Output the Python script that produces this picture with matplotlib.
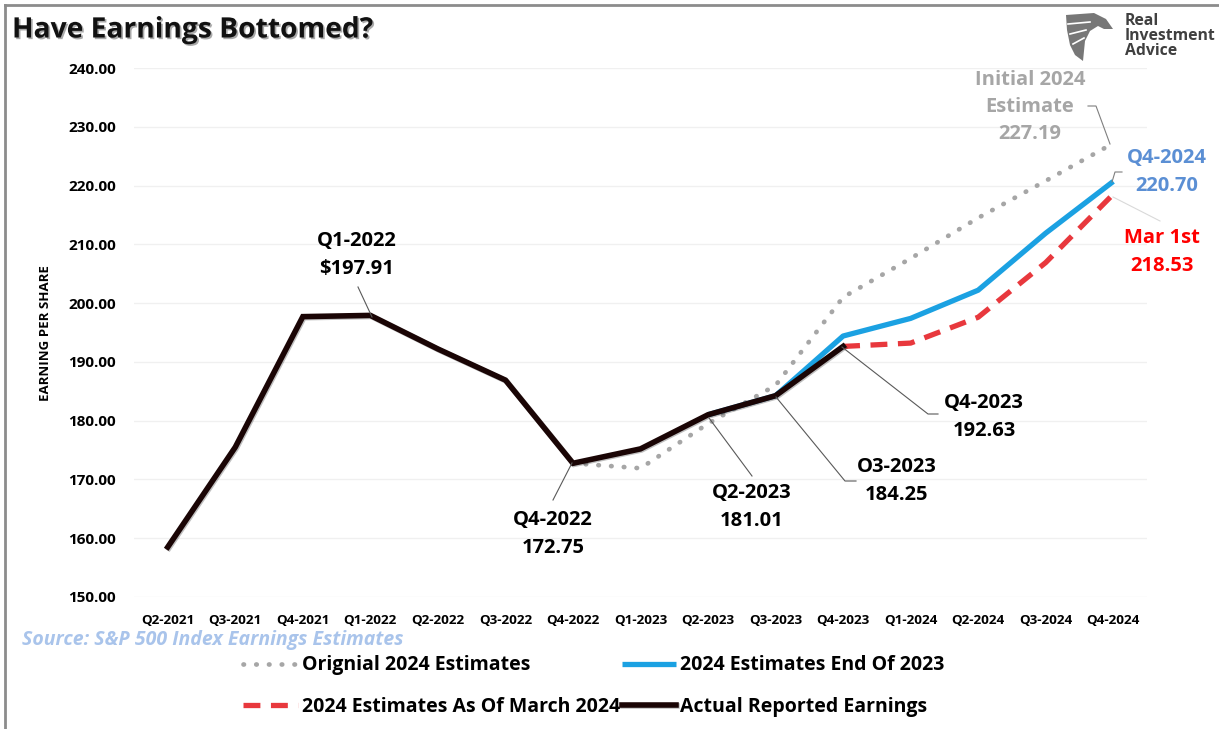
import matplotlib
matplotlib.use("Agg")
import matplotlib.pyplot as plt
import matplotlib.patheffects as pe
from matplotlib.lines import Line2D
import numpy as np

plt.rcParams['font.family'] = ['Open Sans', 'DejaVu Sans']

quarters = ["Q2-2021", "Q3-2021", "Q4-2021", "Q1-2022", "Q2-2022", "Q3-2022", "Q4-2022",
            "Q1-2023", "Q2-2023", "Q3-2023", "Q4-2023", "Q1-2024", "Q2-2024", "Q3-2024", "Q4-2024"]

actual = [158.5, 175.5, 197.7, 197.91, 192.2, 186.9, 172.75, 175.2, 181.01, 184.25, 192.63,
          None, None, None, None]
original_2024 = [None, None, None, None, None, None, 172.75, 171.9, 179.5, 186.0, 201.0,
                 207.6, 214.5, 220.8, 227.19]
end_2023 = [None, None, None, None, None, None, None, None, 181.01, 184.25, 194.4,
            197.4, 202.2, 211.9, 220.70]
march_2024 = [None, None, None, None, None, None, None, None, None, None, 192.63,
              193.2, 197.6, 206.9, 218.53]

yticks = [150, 160, 170, 180, 190, 200, 210, 220, 230, 240]

def arr(v):
    return np.array([np.nan if x is None else x for x in v], dtype=float)

W, H = 1219, 729
fig = plt.figure(figsize=(W / 100, H / 100), dpi=100)
fig.patch.set_facecolor("white")

def fx(px):
    return px / W

def fy(py):
    return 1 - py / H

ax = fig.add_axes([fx(134), fy(597), fx(1147) - fx(134), fy(68) - fy(597)])
x = np.arange(len(quarters))

c_gray = "#A6A6A6"
c_blue = "#1BA1E2"
c_red = "#E8383D"
c_black = "#1A0505"

l_orig, = ax.plot(x, arr(original_2024), color=c_gray, lw=3.4, linestyle=(0, (0.1, 2.6)),
                  dash_capstyle="round", zorder=2)
l_end, = ax.plot(x, arr(end_2023), color=c_blue, lw=3.8, solid_capstyle="butt", zorder=3)
l_mar, = ax.plot(x, arr(march_2024), color=c_red, lw=3.8, linestyle=(0, (3.2, 2.0)), zorder=3)
l_act, = ax.plot(x, arr(actual), color=c_black, lw=4.0, solid_joinstyle="miter", zorder=4,
                 path_effects=[pe.SimpleLineShadow(offset=(0.8, -0.8), alpha=0.25), pe.Normal()])

ax.set_xlim(-0.5, len(quarters) - 0.5)
ax.set_ylim(150, 240)
ax.set_yticks(yticks)
ax.set_yticklabels([f"{v:.2f}" for v in yticks])
ax.set_xticks(x)
ax.set_xticklabels(quarters)
for lab in ax.get_yticklabels():
    lab.set_fontsize(11)
    lab.set_fontweight("bold")
for lab in ax.get_xticklabels():
    lab.set_fontsize(9.7)
    lab.set_fontweight("bold")
ax.tick_params(axis="both", length=0)
ax.tick_params(axis="y", pad=13)
ax.tick_params(axis="x", pad=12)
for s in ax.spines.values():
    s.set_visible(False)
ax.grid(axis="y", color="#F0F0F0", lw=1)
ax.set_axisbelow(True)

fig.text(fx(46), fy(333), "EARNING PER SHARE", rotation=90, ha="center", va="center",
         fontsize=9.5, fontweight="bold")

# Title
fig.text(fx(12), fy(30), "Have Earnings Bottomed?", fontsize=20.3, fontweight="bold",
         ha="left", va="center", color="#111111",
         path_effects=[pe.withSimplePatchShadow(offset=(1.2, -1.2), shadow_rgbFace="#555555", alpha=0.5)])

# Logo
fig.text(fx(1125), fy(36), "Real\nInvestment\nAdvice", fontsize=11.3, fontweight="bold",
         color="#404040", ha="left", va="center", linespacing=0.92)
eagle_pts = [(1066, 15), (1094, 13), (1106, 19), (1113, 29), (1104, 29), (1098, 26),
             (1090, 31), (1085, 41), (1083, 61), (1075, 55), (1070, 45), (1067, 30)]
eagle = plt.Polygon([[fx(px), fy(py)] for px, py in eagle_pts], closed=True,
                    transform=fig.transFigure, facecolor="#777777", edgecolor="none")
fig.add_artist(eagle)
for (a, b) in [((1068, 24), (1090, 22)), ((1070, 34), (1086, 30)), ((1073, 44), (1084, 38))]:
    fig.add_artist(Line2D([fx(a[0]), fx(b[0])], [fy(a[1]), fy(b[1])], transform=fig.transFigure,
                          color="white", lw=1.2))

# Frame
fig.add_artist(Line2D([fx(5), fx(5)], [fy(5), 0], transform=fig.transFigure, color="#8C8C8C", lw=2))
fig.add_artist(Line2D([fx(5), 1], [fy(5), fy(5)], transform=fig.transFigure, color="#8C8C8C", lw=2))

# Source
fig.text(fx(22), fy(640), "Source: S&P 500 Index Earnings Estimates", fontsize=14, style="italic",
         fontweight="bold", color="#A9C4EB", ha="left", va="center")

def leader(points_px, color="#595959"):
    xs = [fx(p[0]) for p in points_px]
    ys = [fy(p[1]) for p in points_px]
    fig.add_artist(Line2D(xs, ys, transform=fig.transFigure, color=color, lw=0.8, zorder=5))

ann_kw = dict(ha="center", va="center", fontsize=14.5, fontweight="bold", linespacing=1.55)

fig.text(fx(357), fy(255), f"{quarters[3]}\n${197.91:.2f}", color="black", **ann_kw)
leader([(372, 317), (358, 287)])

fig.text(fx(553), fy(534), f"{quarters[6]}\n{172.75:.2f}", color="black", **ann_kw)
leader([(572, 463), (553, 500)])

fig.text(fx(752), fy(507), f"{quarters[8]}\n{181.01:.2f}", color="black", **ann_kw)
leader([(709, 418), (752, 476)])

fig.text(fx(897), fy(481), f"O3-2023\n{184.25:.2f}", color="black", **ann_kw)
leader([(776, 397), (845, 481), (856, 481)])

fig.text(fx(984), fy(417), f"{quarters[10]}\n{192.63:.2f}", color="black", **ann_kw)
leader([(842, 347), (928, 414), (938, 414)])

fig.text(fx(1030), fy(107), f"Initial 2024\nEstimate\n{227.19:.2f}", color="#A6A6A6",
         ha="center", va="center", fontsize=14.5, fontweight="bold", linespacing=1.45)
leader([(1110, 144), (1096, 106), (1088, 106)], color="#7F7F7F")

fig.text(fx(1167), fy(172), f"{quarters[14]}\n{220.70:.2f}", color="#5B8FD4", **ann_kw)
leader([(1112, 182), (1115, 172), (1122, 172)], color="#7F7F7F")

fig.text(fx(1162), fy(252), f"Mar 1st\n{218.53:.2f}", color="#FF0000", **ann_kw)
leader([(1113, 197), (1160, 221)], color="#D9D9D9")

# Legend
handles = [l_orig, l_mar, l_end, l_act]
labels = ["Orignial 2024 Estimates", "2024 Estimates As Of March 2024",
          "2024 Estimates End Of 2023", "Actual Reported Earnings"]
leg = fig.legend(handles, labels, ncol=2, loc="center", bbox_to_anchor=(fx(594), fy(686)),
                 frameon=False, handlelength=2.8, handletextpad=0.2, columnspacing=0.1,
                 borderpad=0, labelspacing=1.1, prop={"weight": "bold", "size": 14})

fig.savefig("out.png", dpi=100, facecolor="white")
